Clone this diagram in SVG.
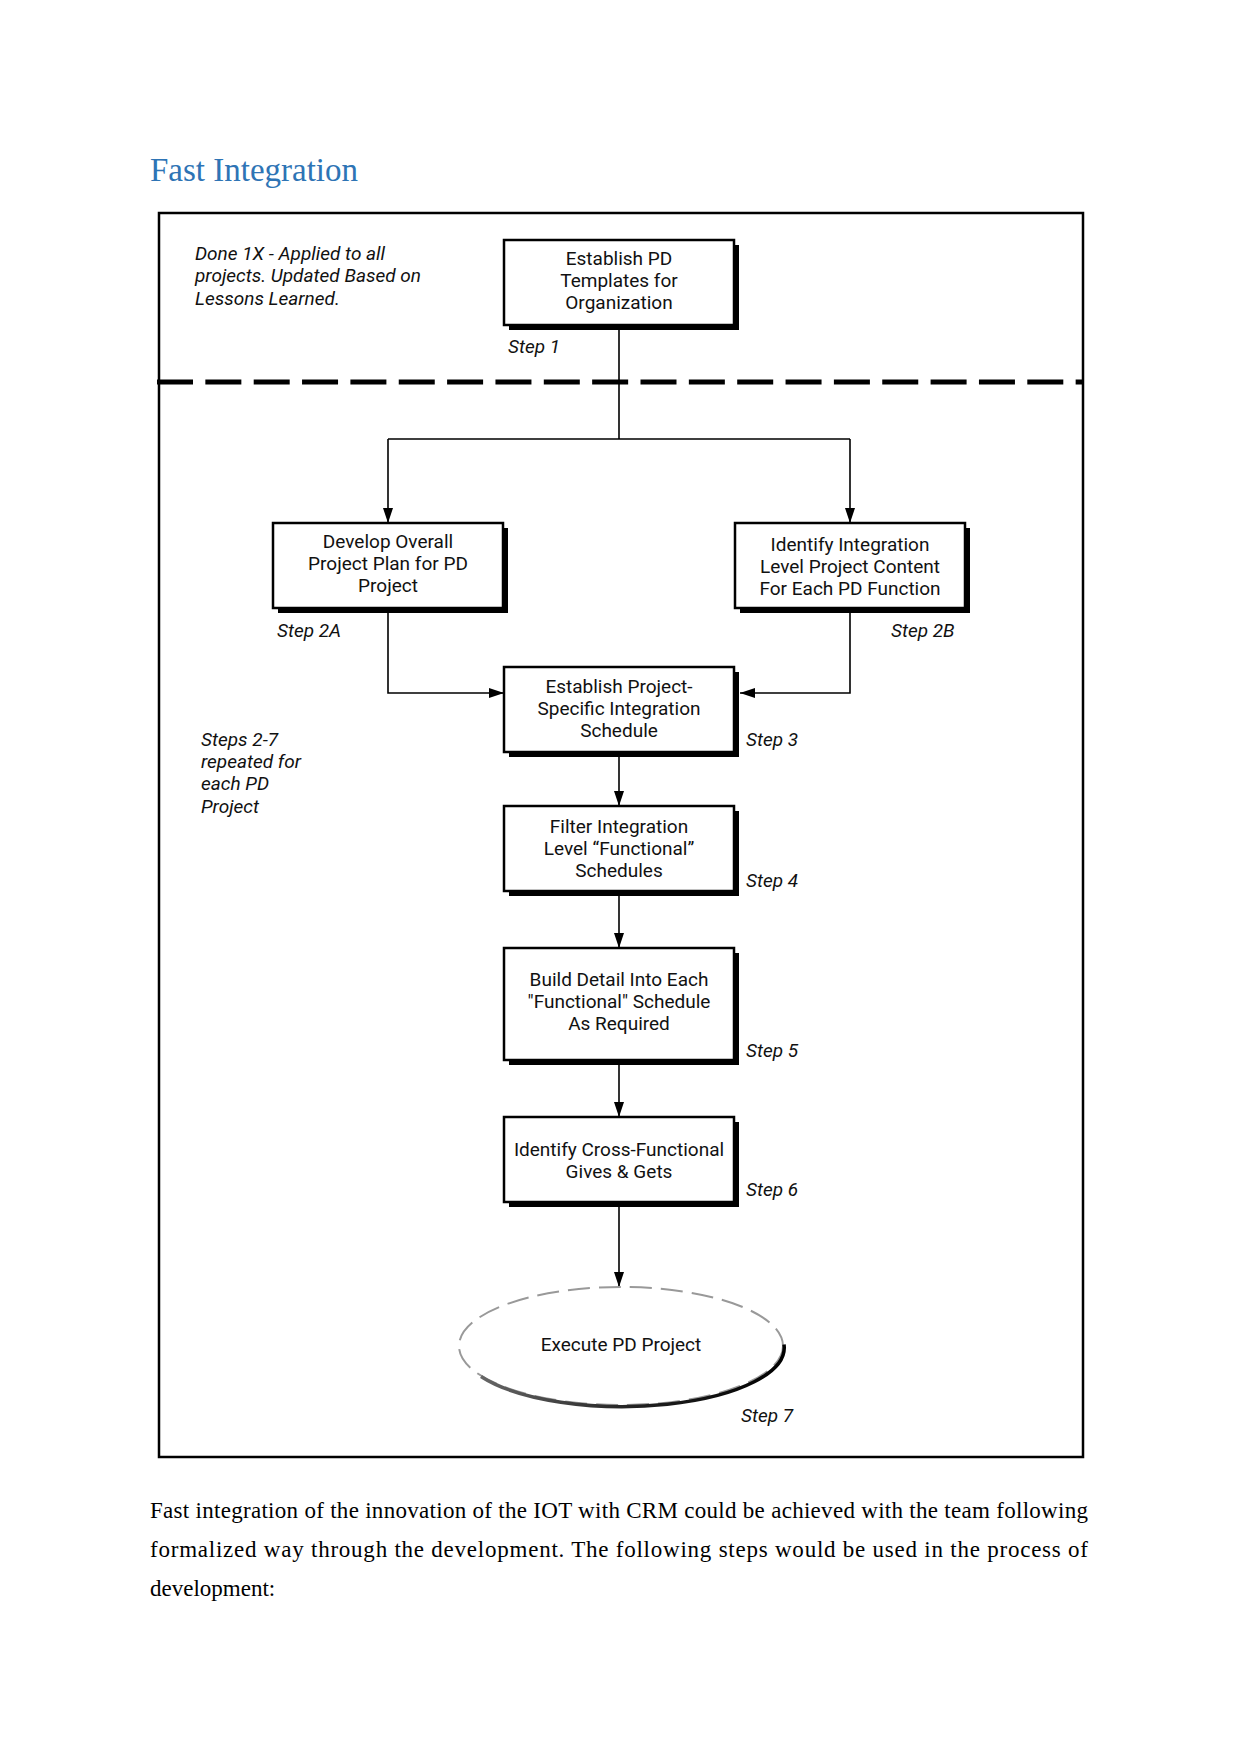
<svg xmlns="http://www.w3.org/2000/svg" width="1241" height="1754" viewBox="0 0 1241 1754">
<style>
.title{font-family:"Liberation Serif","Times New Roman",serif;font-size:33px;fill:#2E74B5}
.para{font-family:"Liberation Serif","Times New Roman",serif;font-size:23px;fill:#000}
.bt{font-family:Roboto,"Liberation Sans",sans-serif;font-size:19px;fill:#111;text-anchor:middle}
.it{font-family:Roboto,"Liberation Sans",sans-serif;font-size:19px;font-style:italic;fill:#111}
.box{fill:#fff;stroke:#000;stroke-width:2.5}
.sh{fill:#000}
.con{fill:none;stroke:#000;stroke-width:1.6}
</style>
<defs>
<marker id="ah" markerUnits="userSpaceOnUse" markerWidth="16" markerHeight="12" refX="15" refY="5" orient="auto">
<path d="M0,0 L15,5 L0,10 z" fill="#000"/>
</marker>
<linearGradient id="shg" x1="0" y1="0" x2="1" y2="0">
<stop offset="0" stop-color="#666"/>
<stop offset="0.5" stop-color="#222"/>
<stop offset="1" stop-color="#000"/>
</linearGradient>
</defs>
<rect width="1241" height="1754" fill="#fff"/>
<text class="title" x="150" y="181">Fast Integration</text>

<g id="frame">
<rect x="159" y="213" width="924" height="1244" fill="none" stroke="#000" stroke-width="2.5"/>
<line x1="157" y1="382" x2="1083" y2="382" stroke="#000" stroke-width="5" stroke-dasharray="36 12.35"/>
</g>

<g id="notes">
<text class="it" x="195" y="260">Done 1X - Applied to all</text>
<text class="it" x="195" y="282">projects. Updated Based on</text>
<text class="it" x="195" y="305">Lessons Learned.</text>
<text class="it" x="201" y="746">Steps 2-7</text>
<text class="it" x="201" y="768">repeated for</text>
<text class="it" x="201" y="790">each PD</text>
<text class="it" x="201" y="813">Project</text>
</g>

<g id="connectors">
<path class="con" d="M619,330 V439 M388,439 H850"/>
<path class="con" d="M388,439 V523" marker-end="url(#ah)"/>
<path class="con" d="M850,439 V523" marker-end="url(#ah)"/>
<path class="con" d="M388,613 V693 H504" marker-end="url(#ah)"/>
<path class="con" d="M850,613 V693 H740" marker-end="url(#ah)"/>
<path class="con" d="M619,757 V806" marker-end="url(#ah)"/>
<path class="con" d="M619,896 V948" marker-end="url(#ah)"/>
<path class="con" d="M619,1065 V1117" marker-end="url(#ah)"/>
<path class="con" d="M619,1207 V1287" marker-end="url(#ah)"/>
</g>

<g id="step1">
<rect class="sh" x="509" y="245" width="230" height="85"/>
<rect class="box" x="504" y="240" width="230" height="85"/>
<text class="bt" x="619" y="265">Establish PD</text>
<text class="bt" x="619" y="287">Templates for</text>
<text class="bt" x="619" y="309">Organization</text>
<text class="it" x="508" y="353">Step 1</text>
</g>

<g id="step2a">
<rect class="sh" x="278" y="528" width="230" height="85"/>
<rect class="box" x="273" y="523" width="230" height="85"/>
<text class="bt" x="388" y="548">Develop Overall</text>
<text class="bt" x="388" y="570">Project Plan for PD</text>
<text class="bt" x="388" y="592">Project</text>
<text class="it" x="277" y="637">Step 2A</text>
</g>

<g id="step2b">
<rect class="sh" x="740" y="528" width="230" height="85"/>
<rect class="box" x="735" y="523" width="230" height="85"/>
<text class="bt" x="850" y="551">Identify Integration</text>
<text class="bt" x="850" y="573">Level Project Content</text>
<text class="bt" x="850" y="595">For Each PD Function</text>
<text class="it" x="891" y="637">Step 2B</text>
</g>

<g id="step3">
<rect class="sh" x="509" y="672" width="230" height="85"/>
<rect class="box" x="504" y="667" width="230" height="85"/>
<text class="bt" x="619" y="693">Establish Project-</text>
<text class="bt" x="619" y="715">Specific Integration</text>
<text class="bt" x="619" y="737">Schedule</text>
<text class="it" x="746" y="746">Step 3</text>
</g>

<g id="step4">
<rect class="sh" x="509" y="811" width="230" height="85"/>
<rect class="box" x="504" y="806" width="230" height="85"/>
<text class="bt" x="619" y="833">Filter Integration</text>
<text class="bt" x="619" y="855">Level “Functional”</text>
<text class="bt" x="619" y="877">Schedules</text>
<text class="it" x="746" y="887">Step 4</text>
</g>

<g id="step5">
<rect class="sh" x="509" y="953" width="230" height="112"/>
<rect class="box" x="504" y="948" width="230" height="112"/>
<text class="bt" x="619" y="986">Build Detail Into Each</text>
<text class="bt" x="619" y="1008">"Functional" Schedule</text>
<text class="bt" x="619" y="1030">As Required</text>
<text class="it" x="746" y="1057">Step 5</text>
</g>

<g id="step6">
<rect class="sh" x="509" y="1122" width="230" height="85"/>
<rect class="box" x="504" y="1117" width="230" height="85"/>
<text class="bt" x="619" y="1156">Identify Cross-Functional</text>
<text class="bt" x="619" y="1178">Gives &amp; Gets</text>
<text class="it" x="746" y="1196">Step 6</text>
</g>

<g id="step7">
<ellipse cx="621" cy="1346" rx="162" ry="59" fill="#fff" stroke="#999" stroke-width="2" stroke-dasharray="22 9"/>
<path d="M480,1375 A162,59 0 0 0 783,1343" fill="none" stroke="url(#shg)" stroke-width="3.5" transform="translate(1,1.5)"/>
<text class="bt" x="621" y="1351">Execute PD Project</text>
<text class="it" x="741" y="1422">Step 7</text>
</g>

<g id="paragraph">
<text class="para" x="150" y="1518" textLength="938" lengthAdjust="spacing">Fast integration of the innovation of the IOT with CRM could be achieved with the team following</text>
<text class="para" x="150" y="1557" textLength="938" lengthAdjust="spacing">formalized way through the development. The following steps would be used in the process of</text>
<text class="para" x="150" y="1596">development:</text>
</g>
</svg>
